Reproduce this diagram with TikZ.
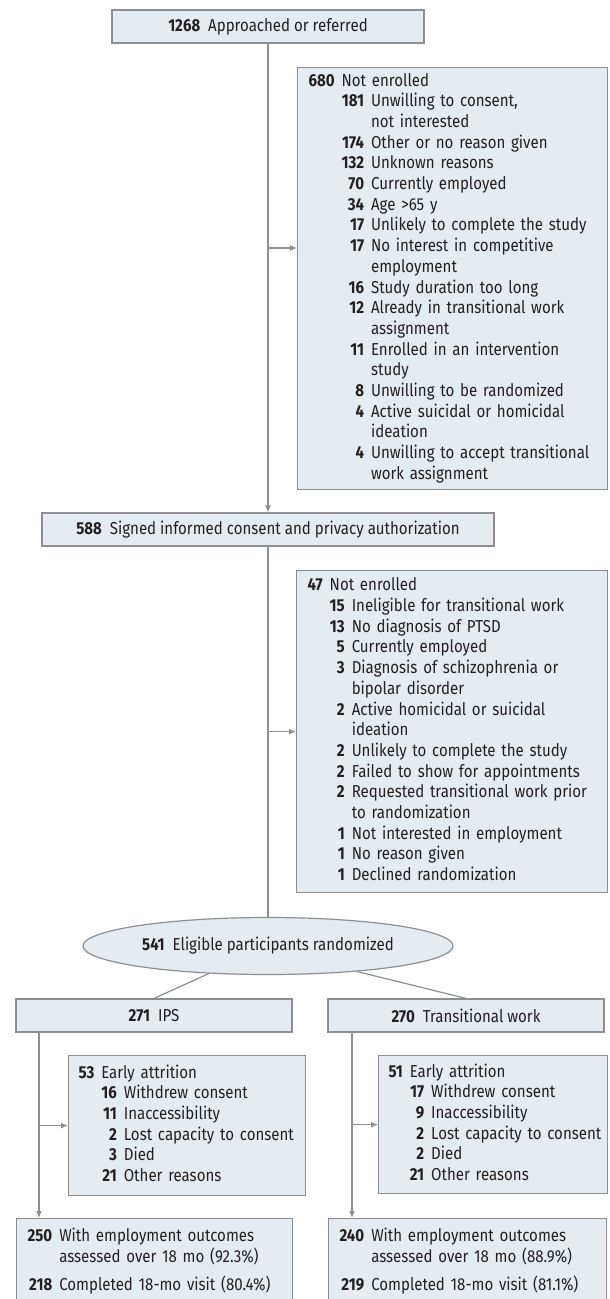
\documentclass[tikz,border=0pt]{standalone}
\usepackage{fontspec}
\setmainfont{Fira Sans}[FakeStretch=0.87]
\usetikzlibrary{shapes.geometric,arrows.meta,calc}

\begin{document}
\begin{tikzpicture}[x=1pt,y=-1pt]
  % Local definitions
  \def\cnt#1{{\bfseries #1}}

  % Colors
  \definecolor{boxfill}{RGB}{229,236,241}
  \definecolor{boxline}{RGB}{140,142,145}
  \definecolor{ink}{RGB}{35,31,32}

  % Styles
  \tikzstyle{box}=[draw=boxline,fill=boxfill,line width=1.2pt,text=ink,inner sep=0pt,font=\fontsize{17.3}{20.7}\selectfont]
  \tikzstyle{list box}=[box,anchor=north west,align=left,inner xsep=11pt]
  \tikzstyle{link}=[draw=boxline,line width=1.2pt]
  \tikzstyle{arrow}=[link,-{Latex[length=7pt,width=6pt]}]

  \useasboundingbox (0,0) rectangle (610,1299);
  \clip (0,0) rectangle (610,1299);

  % The graphic
  \node[box,minimum width=312,minimum height=33] (appr) at (268,26.5) {\cnt{1268}\ \ Approached or referred};

  \node[list box,text width=288,minimum height=422] (excl1) at (297,67) {%
    \begin{tabular}{@{}l@{\hspace{7pt}}r@{\hspace{7pt}}l@{}}
      \cnt{680} & \multicolumn{2}{@{}l@{}}{Not enrolled}\\
      & \cnt{181} & Unwilling to consent,\\
      & & not interested\\
      & \cnt{174} & Other or no reason given\\
      & \cnt{132} & Unknown reasons\\
      & \cnt{70} & Currently employed\\
      & \cnt{34} & Age >65 y\\
      & \cnt{17} & Unlikely to complete the study\\
      & \cnt{17} & No interest in competitive\\
      & & employment\\
      & \cnt{16} & Study duration too long\\
      & \cnt{12} & Already in transitional work\\
      & & assignment\\
      & \cnt{11} & Enrolled in an intervention\\
      & & study\\
      & \cnt{8} & Unwilling to be randomized\\
      & \cnt{4} & Active suicidal or homicidal\\
      & & ideation\\
      & \cnt{4} & Unwilling to accept transitional\\
      & & work assignment
    \end{tabular}};

  \node[box,minimum width=452,minimum height=33] (consent) at (268,529.5) {\cnt{588}\ \ Signed informed consent and privacy authorization};

  \node[list box,text width=289,minimum height=322] (excl2) at (296,570) {%
    \begin{tabular}{@{}l@{\hspace{7pt}}r@{\hspace{7pt}}l@{}}
      \cnt{47} & \multicolumn{2}{@{}l@{}}{Not enrolled}\\
      & \cnt{15} & Ineligible for transitional work\\
      & \cnt{13} & No diagnosis of PTSD\\
      & \cnt{5} & Currently employed\\
      & \cnt{3} & Diagnosis of schizophrenia or\\
      & & bipolar disorder\\
      & \cnt{2} & Active homicidal or suicidal\\
      & & ideation\\
      & \cnt{2} & Unlikely to complete the study\\
      & \cnt{2} & Failed to show for appointments\\
      & \cnt{2} & Requested transitional work prior\\
      & & to randomization\\
      & \cnt{1} & Not interested in employment\\
      & \cnt{1} & No reason given\\
      & \cnt{1} & Declined randomization
    \end{tabular}};

  \node[box,ellipse,minimum width=370,minimum height=57] (rand) at (268,946) {\cnt{541}\ \ Eligible participants randomized};

  \node[box,minimum width=276,minimum height=33] (ips) at (154,1015.5) {\cnt{271}\ \ IPS};
  \node[box,minimum width=276,minimum height=33] (tw) at (466,1015.5) {\cnt{270}\ \ Transitional work};

  \node[list box,inner xsep=10pt,text width=217,minimum height=140] (att1) at (68,1055) {%
    \begin{tabular}{@{}l@{\hspace{7pt}}r@{\hspace{7pt}}l@{}}
      \cnt{53} & \multicolumn{2}{@{}l@{}}{Early attrition}\\
      & \cnt{16} & Withdrew consent\\
      & \cnt{11} & Inaccessibility\\
      & \cnt{2} & Lost capacity to consent\\
      & \cnt{3} & Died\\
      & \cnt{21} & Other reasons
    \end{tabular}};
  \node[list box,inner xsep=10pt,text width=209,minimum height=138] (att2) at (378,1055) {%
    \begin{tabular}{@{}l@{\hspace{7pt}}r@{\hspace{7pt}}l@{}}
      \cnt{51} & \multicolumn{2}{@{}l@{}}{Early attrition}\\
      & \cnt{17} & Withdrew consent\\
      & \cnt{9} & Inaccessibility\\
      & \cnt{2} & Lost capacity to consent\\
      & \cnt{2} & Died\\
      & \cnt{21} & Other reasons
    \end{tabular}};

  \node[list box,inner ysep=8.5pt,text width=254] (out1) at (16,1218) {%
    \begin{tabular}{@{}r@{\hspace{7pt}}l@{}}
      \cnt{250} & With employment outcomes\\
      & assessed over 18 mo (92.3\%)\\[7pt]
      \cnt{218} & Completed 18-mo visit (80.4\%)\\[12pt]
    \end{tabular}};
  \node[list box,inner ysep=8.5pt,text width=256] (out2) at (328,1218) {%
    \begin{tabular}{@{}r@{\hspace{7pt}}l@{}}
      \cnt{240} & With employment outcomes\\
      & assessed over 18 mo (88.9\%)\\[7pt]
      \cnt{219} & Completed 18-mo visit (81.1\%)\\[12pt]
    \end{tabular}};

  % connectors
  \coordinate (tap1) at (268,248);
  \coordinate (drop1) at (39,0);
  \coordinate (drop2) at (352,0);

  \draw[arrow] (appr) -- (consent);
  \draw[arrow] (tap1) -- (tap1 -| excl1.west);
  \draw[link] (consent) -- (rand);
  \draw[arrow] (consent.south |- excl2.west) -- (excl2.west);
  \draw[link] (rand.205) -- (ips.north);
  \draw[link] (rand.344) -- (tw.north);
  \draw[arrow] (drop1 |- ips.south) -- (drop1 |- out1.north);
  \draw[arrow] (drop1 |- att1.west) -- (att1.west);
  \draw[arrow] (drop2 |- tw.south) -- (drop2 |- out2.north);
  \draw[arrow] (drop2 |- att2.west) -- (att2.west);
\end{tikzpicture}
\end{document}
